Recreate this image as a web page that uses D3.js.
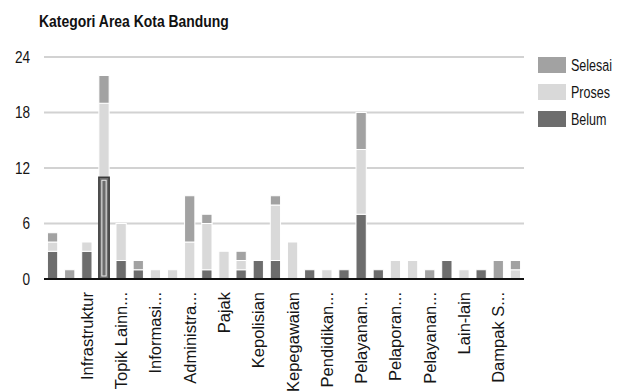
<!DOCTYPE html>
<html>
<head>
<meta charset="utf-8">
<script src="https://cdn.jsdelivr.net/npm/d3@7"></script>
<style>
  body { margin: 0; background: #fff; }
  text { font-family: "Liberation Sans", Arial, sans-serif; fill: #151515; }
</style>
</head>
<body>
<svg id="chart" width="627" height="391"></svg>
<script>
// one entry per bar; only every other bar gets a visible label
const categories = [null, null, "Infrastruktur", null, "Topik Lainn...", null, "Informasi...", null,
  "Administra...", null, "Pajak", null, "Kepolisian", null, "Kepegawaian", null, "Pendidikan...", null,
  "Pelayanan...", null, "Pelaporan...", null, "Pelayanan...", null, "Lain-lain", null, "Dampak S...", null];
const belum   = [3, 0, 3, 11, 2, 1, 0, 0, 0, 1, 0, 1, 2, 2, 0, 1, 0, 1, 7, 1, 0, 0, 0, 2, 0, 1, 0, 0];
const proses  = [1, 0, 1, 8, 4, 0, 1, 1, 4, 5, 3, 1, 0, 6, 4, 0, 1, 0, 7, 0, 2, 2, 0, 0, 1, 0, 0, 1];
const selesai = [1, 1, 0, 3, 0, 1, 0, 0, 5, 1, 0, 1, 0, 1, 0, 0, 0, 0, 4, 0, 0, 0, 1, 0, 0, 0, 2, 1];
const yTicks = [0, 6, 12, 18, 24];
const seriesNames = ["Belum", "Proses", "Selesai"];
const highlighted = { series: "Belum", index: 3 };

const colors = { Belum: "#6d6d6d", Proses: "#d9d9d9", Selesai: "#a2a2a2" };

const svg = d3.select("#chart");
const plotLeft = 44, plotRight = 524, plotTop = 57, plotBottom = 279;

let rows = categories.map((c, i) => ({ i, Belum: belum[i], Proses: proses[i], Selesai: selesai[i] }));
let stack = d3.stack().keys(seriesNames)(rows);

let x = d3.scaleBand()
  .domain(d3.range(categories.length))
  .range([plotLeft, plotRight])
  .paddingInner(0.4)
  .paddingOuter(0.2);

let y = d3.scaleLinear().domain([0, 24]).range([plotBottom, plotTop]);

// Title
svg.append("text")
  .attr("transform", "translate(39,27) scale(0.82,1)")
  .style("font-size", "17px")
  .style("font-weight", "bold")
  .style("fill", "#111")
  .text("Kategori Area Kota Bandung");

// Grid lines
svg.append("g").selectAll("line")
  .data(yTicks.filter(t => t > 0))
  .enter().append("line")
  .attr("x1", plotLeft).attr("x2", plotRight)
  .attr("y1", d => y(d)).attr("y2", d => y(d))
  .attr("stroke", "#d2d2d2")
  .attr("stroke-width", 2);

// Y tick labels
svg.append("g").selectAll("text")
  .data(yTicks)
  .enter().append("text")
  .attr("transform", d => `translate(30,${y(d)}) scale(0.85,1)`)
  .attr("dy", "0.36em")
  .attr("text-anchor", "end")
  .style("font-size", "16px")
  .text(d => d);

// Bars
let groups = svg.append("g").selectAll("g")
  .data(stack)
  .enter().append("g")
  .attr("fill", d => colors[d.key]);

groups.selectAll("rect")
  .data(d => d.filter(v => v[1] > v[0]))
  .enter().append("rect")
  .attr("x", d => x(d.data.i))
  .attr("y", d => y(d[1]))
  .attr("width", x.bandwidth())
  .attr("height", d => y(d[0]) - y(d[1]))
  .attr("stroke", "#fff")
  .attr("stroke-width", 1);

// highlighted segment
let hs = stack.find(s => s.key === highlighted.series)[highlighted.index];
let hx = x(highlighted.index), hy = y(hs[1]), hh = y(hs[0]) - y(hs[1]);
svg.append("rect")
  .attr("x", hx).attr("y", hy)
  .attr("width", x.bandwidth()).attr("height", hh)
  .attr("fill", colors.Belum)
  .attr("stroke", "#3a3a3a").attr("stroke-width", 1.5);
svg.append("rect")
  .attr("x", hx + 3).attr("y", hy + 3)
  .attr("width", x.bandwidth() - 6).attr("height", hh - 6)
  .attr("fill", "none")
  .attr("stroke", "#eee").attr("stroke-width", 1);

// Baseline
svg.append("line")
  .attr("x1", plotLeft).attr("x2", plotRight)
  .attr("y1", y(0)).attr("y2", y(0))
  .attr("stroke", "#111")
  .attr("stroke-width", 2);

// X labels (rotated)
svg.append("g").selectAll("text")
  .data(categories.map((c, i) => ({ c, i })).filter(d => d.c))
  .enter().append("text")
  .attr("transform", d => `translate(${x(d.i) + x.bandwidth() / 2},292) rotate(-90)`)
  .attr("dy", "0.36em")
  .attr("text-anchor", "end")
  .style("font-size", "16.5px")
  .text(d => d.c);

// Legend
let legendItems = ["Selesai", "Proses", "Belum"];
let legend = svg.append("g").selectAll("g")
  .data(legendItems)
  .enter().append("g")
  .attr("transform", (d, i) => `translate(538,${57 + i * 27})`);

legend.append("rect")
  .attr("width", 28).attr("height", 16)
  .attr("fill", d => colors[d]);

legend.append("text")
  .attr("transform", "translate(33,8) scale(0.76,1)")
  .attr("dy", "0.36em")
  .style("font-size", "16.5px")
  .text(d => d);
</script>
</body>
</html>
